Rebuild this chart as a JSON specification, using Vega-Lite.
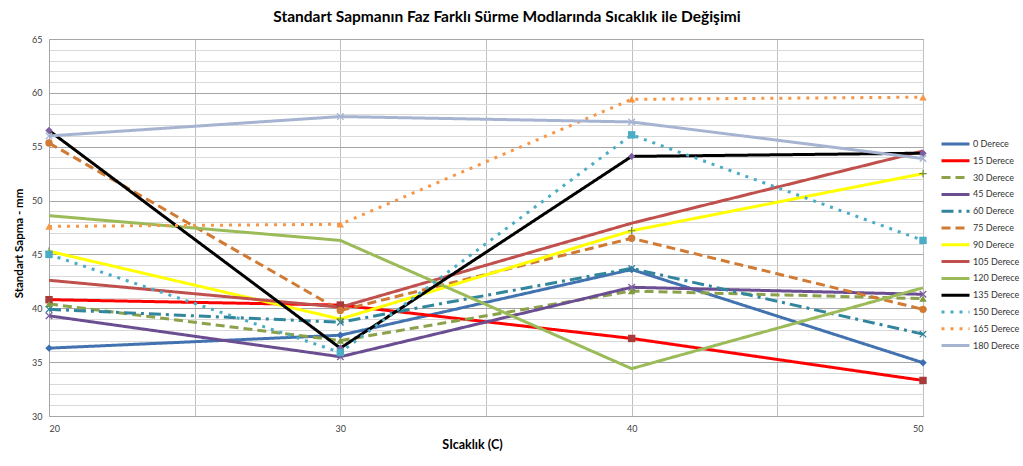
{
  "$schema": "https://vega.github.io/schema/vega-lite/v6.json",
  "width": 874,
  "height": 377,
  "autosize": {"type": "none"},
  "padding": {"left": 49, "top": 39, "right": 100, "bottom": 50},
  "background": "#ffffff",
  "title": {
    "text": "Standart Sapmanın Faz Farklı Sürme Modlarında Sıcaklık ile Değişimi",
    "font": "Lato",
    "fontSize": 15.5,
    "fontWeight": "bold",
    "color": "#000000",
    "anchor": "middle",
    "dx": 21,
    "offset": 10
  },
  "config": {
    "view": {"stroke": "#A6A6A6", "strokeWidth": 1},
    "font": "Lato"
  },
  "data": {
    "values": [
      {"seri": "0 Derece", "sicaklik": 20, "sapma": 36.3},
      {"seri": "0 Derece", "sicaklik": 30, "sapma": 37.5},
      {"seri": "0 Derece", "sicaklik": 40, "sapma": 43.6},
      {"seri": "0 Derece", "sicaklik": 50, "sapma": 34.95},
      {"seri": "15 Derece", "sicaklik": 20, "sapma": 40.8},
      {"seri": "15 Derece", "sicaklik": 30, "sapma": 40.3},
      {"seri": "15 Derece", "sicaklik": 40, "sapma": 37.2},
      {"seri": "15 Derece", "sicaklik": 50, "sapma": 33.3},
      {"seri": "30 Derece", "sicaklik": 20, "sapma": 40.4},
      {"seri": "30 Derece", "sicaklik": 30, "sapma": 37.0},
      {"seri": "30 Derece", "sicaklik": 40, "sapma": 41.6},
      {"seri": "30 Derece", "sicaklik": 50, "sapma": 40.9},
      {"seri": "45 Derece", "sicaklik": 20, "sapma": 39.3},
      {"seri": "45 Derece", "sicaklik": 30, "sapma": 35.5},
      {"seri": "45 Derece", "sicaklik": 40, "sapma": 41.95},
      {"seri": "45 Derece", "sicaklik": 50, "sapma": 41.3},
      {"seri": "60 Derece", "sicaklik": 20, "sapma": 39.9},
      {"seri": "60 Derece", "sicaklik": 30, "sapma": 38.7},
      {"seri": "60 Derece", "sicaklik": 40, "sapma": 43.7},
      {"seri": "60 Derece", "sicaklik": 50, "sapma": 37.6},
      {"seri": "75 Derece", "sicaklik": 20, "sapma": 55.35},
      {"seri": "75 Derece", "sicaklik": 30, "sapma": 39.8},
      {"seri": "75 Derece", "sicaklik": 40, "sapma": 46.5},
      {"seri": "75 Derece", "sicaklik": 50, "sapma": 39.9},
      {"seri": "90 Derece", "sicaklik": 20, "sapma": 45.3},
      {"seri": "90 Derece", "sicaklik": 30, "sapma": 39.0},
      {"seri": "90 Derece", "sicaklik": 40, "sapma": 47.2},
      {"seri": "90 Derece", "sicaklik": 50, "sapma": 52.5},
      {"seri": "105 Derece", "sicaklik": 20, "sapma": 42.6},
      {"seri": "105 Derece", "sicaklik": 30, "sapma": 40.1},
      {"seri": "105 Derece", "sicaklik": 40, "sapma": 47.9},
      {"seri": "105 Derece", "sicaklik": 50, "sapma": 54.6},
      {"seri": "120 Derece", "sicaklik": 20, "sapma": 48.6},
      {"seri": "120 Derece", "sicaklik": 30, "sapma": 46.3},
      {"seri": "120 Derece", "sicaklik": 40, "sapma": 34.4},
      {"seri": "120 Derece", "sicaklik": 50, "sapma": 41.9},
      {"seri": "135 Derece", "sicaklik": 20, "sapma": 56.5},
      {"seri": "135 Derece", "sicaklik": 30, "sapma": 36.3},
      {"seri": "135 Derece", "sicaklik": 40, "sapma": 54.1},
      {"seri": "135 Derece", "sicaklik": 50, "sapma": 54.4},
      {"seri": "150 Derece", "sicaklik": 20, "sapma": 45.0},
      {"seri": "150 Derece", "sicaklik": 30, "sapma": 35.9},
      {"seri": "150 Derece", "sicaklik": 40, "sapma": 56.1},
      {"seri": "150 Derece", "sicaklik": 50, "sapma": 46.3},
      {"seri": "165 Derece", "sicaklik": 20, "sapma": 47.6},
      {"seri": "165 Derece", "sicaklik": 30, "sapma": 47.8},
      {"seri": "165 Derece", "sicaklik": 40, "sapma": 59.4},
      {"seri": "165 Derece", "sicaklik": 50, "sapma": 59.6},
      {"seri": "180 Derece", "sicaklik": 20, "sapma": 56.0},
      {"seri": "180 Derece", "sicaklik": 30, "sapma": 57.8},
      {"seri": "180 Derece", "sicaklik": 40, "sapma": 57.3},
      {"seri": "180 Derece", "sicaklik": 50, "sapma": 53.9}
    ]
  },
  "encoding": {
    "x": {
      "field": "sicaklik",
      "type": "quantitative",
      "scale": {"domain": [20, 50], "nice": false, "zero": false},
      "axis": {
        "title": "SIcaklık (C)",
        "titleFont": "Lato",
        "titleFontSize": 12.5,
        "titleFontWeight": "bold",
        "titleColor": "#000000",
        "titleX": 423,
        "titlePadding": 5,
        "values": [20, 25, 30, 35, 40, 45, 50],
        "labelExpr": "datum.value % 10 === 0 ? datum.label : ''",
        "labelFontSize": 9,
        "labelColor": "#404040",
        "labelPadding": 8,
        "ticks": false,
        "grid": true,
        "gridColor": "#BFBFBF",
        "gridWidth": 1,
        "domainColor": "#A6A6A6"
      }
    },
    "y": {
      "field": "sapma",
      "type": "quantitative",
      "scale": {"domain": [30, 65], "nice": false, "zero": false},
      "axis": {
        "title": "Standart Sapma - mm",
        "titleFont": "Lato",
        "titleFontSize": 11.5,
        "titleFontWeight": "bold",
        "titleColor": "#000000",
        "titleY": 204,
        "titlePadding": 7,
        "values": [30,31,32,33,34,35,36,37,38,39,40,41,42,43,44,45,46,47,48,49,50,51,52,53,54,55,56,57,58,59,60,61,62,63,64,65],
        "labelExpr": "datum.value % 5 === 0 ? datum.label : ''",
        "labelFontSize": 9,
        "labelColor": "#404040",
        "labelPadding": 7,
        "ticks": false,
        "grid": true,
        "gridColor": {"condition": {"test": "datum.value % 5 === 0", "value": "#A6A6A6"}, "value": "#D9D9D9"},
        "gridWidth": 1,
        "domainColor": "#A6A6A6"
      }
    }
  },
  "layer": [
    {
      "mark": {"type": "line", "strokeWidth": 3, "strokeCap": "butt", "strokeJoin": "round"},
      "encoding": {
        "color": {
          "field": "seri",
          "type": "nominal",
          "sort": ["0 Derece","15 Derece","30 Derece","45 Derece","60 Derece","75 Derece","90 Derece","105 Derece","120 Derece","135 Derece","150 Derece","165 Derece","180 Derece"],
          "scale": {
            "domain": ["0 Derece","15 Derece","30 Derece","45 Derece","60 Derece","75 Derece","90 Derece","105 Derece","120 Derece","135 Derece","150 Derece","165 Derece","180 Derece"],
            "range": ["#4272B0","#FF0000","#8BA24A","#6B4E91","#31859C","#D07A34","#FFFF00","#C0504D","#9BBB59","#000000","#4BACC6","#F79646","#A6B4D2"]
          },
          "legend": {
            "title": null,
            "orient": "none",
            "legendX": 891,
            "legendY": 98,
            "symbolType": "stroke",
            "symbolStrokeWidth": 3,
            "symbolSize": 784,
            "clipHeight": 14,
            "rowPadding": 2.8,
            "labelFontSize": 9,
            "labelColor": "#333333",
            "labelOffset": 2,
            "labelFont": "Lato"
          }
        },
        "strokeDash": {
          "field": "seri",
          "type": "nominal",
          "sort": ["0 Derece","15 Derece","30 Derece","45 Derece","60 Derece","75 Derece","90 Derece","105 Derece","120 Derece","135 Derece","150 Derece","165 Derece","180 Derece"],
          "scale": {
            "domain": ["0 Derece","15 Derece","30 Derece","45 Derece","60 Derece","75 Derece","90 Derece","105 Derece","120 Derece","135 Derece","150 Derece","165 Derece","180 Derece"],
            "range": [[1,0],[1,0],[9,5],[1,0],[12,5,3,5],[9,5],[1,0],[1,0],[1,0],[1,0],[3,6],[3,6],[1,0]]
          },
          "legend": {
            "title": null,
            "orient": "none",
            "legendX": 891,
            "legendY": 98,
            "symbolType": "stroke",
            "symbolStrokeWidth": 3,
            "symbolSize": 784,
            "clipHeight": 14,
            "rowPadding": 2.8,
            "labelFontSize": 9,
            "labelColor": "#333333",
            "labelOffset": 2,
            "labelFont": "Lato"
          }
        },
        "order": {"field": "sicaklik", "type": "quantitative"}
      }
    },
    {
      "transform": [{"filter": "datum.seri !== '105 Derece' && datum.seri !== '120 Derece'"}],
      "mark": {"type": "point", "filled": true, "size": 55, "opacity": 1, "strokeWidth": 0},
      "encoding": {
        "fill": {
          "field": "seri",
          "type": "nominal",
          "scale": {
            "domain": ["0 Derece","15 Derece","30 Derece","45 Derece","60 Derece","75 Derece","90 Derece","135 Derece","150 Derece","165 Derece","180 Derece"],
            "range": ["#3C6DB0","#A83A3A","#7F9A3F","#7D60A0","#31859C","#D07A34","#6F8A3A","#7D60A0","#4BACC6","#F79646","#A6B4D2"]
          },
          "legend": null
        },
        "shape": {
          "field": "seri",
          "type": "nominal",
          "scale": {
            "domain": ["0 Derece","15 Derece","30 Derece","45 Derece","60 Derece","75 Derece","90 Derece","135 Derece","150 Derece","165 Derece","180 Derece"],
            "range": ["diamond","square","triangle-up","M-1,-0.75L-0.75,-1L0,-0.25L0.75,-1L1,-0.75L0.25,0L1,0.75L0.75,1L0,0.25L-0.75,1L-1,0.75L-0.25,0Z","M-1,-0.75L-0.75,-1L0,-0.25L0.75,-1L1,-0.75L0.25,0L1,0.75L0.75,1L0,0.25L-0.75,1L-1,0.75L-0.25,0Z","circle","M-1,-0.15L-0.15,-0.15L-0.15,-1L0.15,-1L0.15,-0.15L1,-0.15L1,0.15L0.15,0.15L0.15,1L-0.15,1L-0.15,0.15L-1,0.15Z","diamond","square","triangle-up","M-1,-0.75L-0.75,-1L0,-0.25L0.75,-1L1,-0.75L0.25,0L1,0.75L0.75,1L0,0.25L-0.75,1L-1,0.75L-0.25,0Z"]
          },
          "legend": null
        }
      }
    }
  ]
}
